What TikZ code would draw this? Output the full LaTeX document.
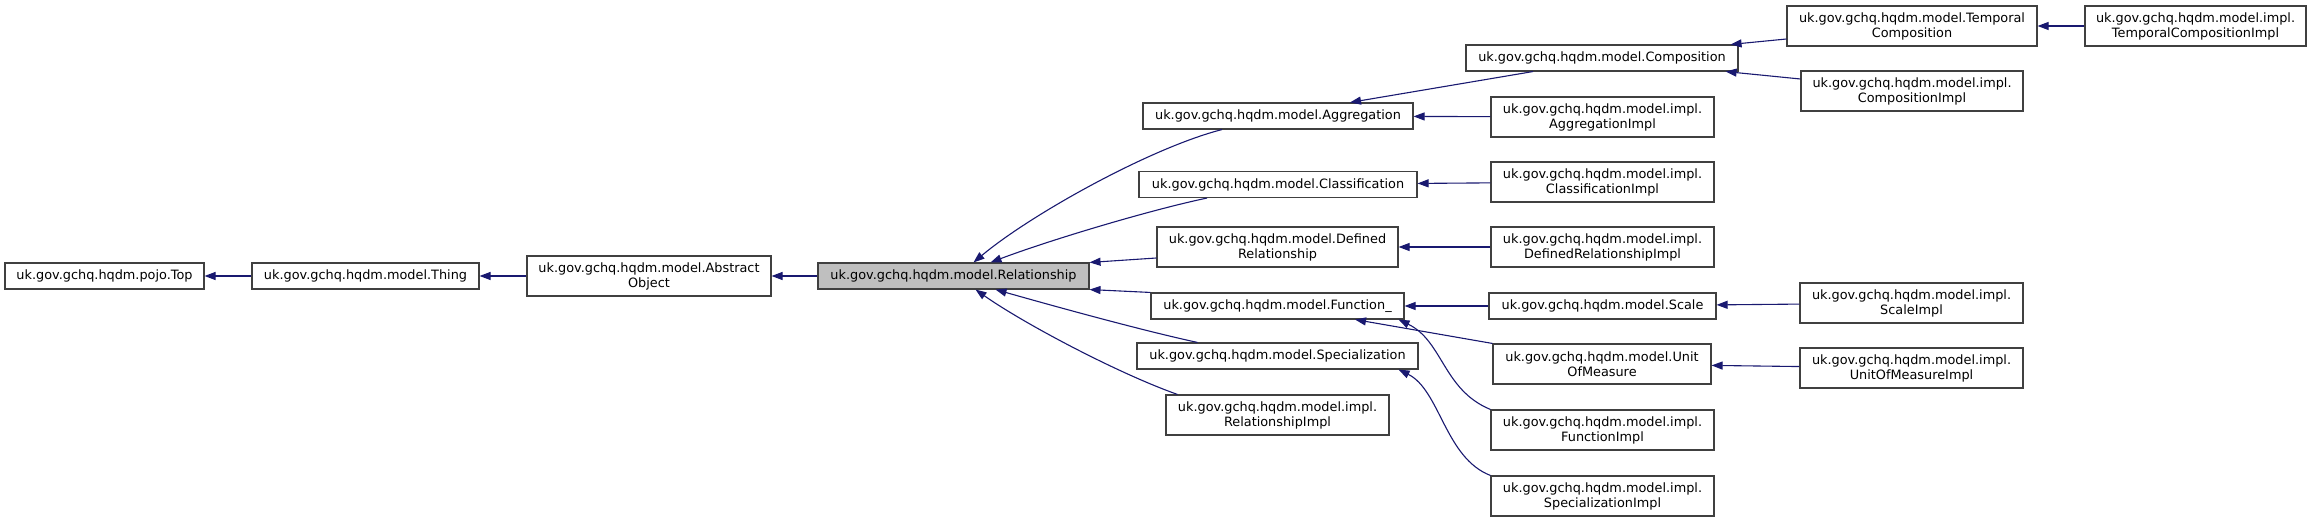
\documentclass[tikz,border=0pt]{standalone}
\usepackage{fontspec}
\setmainfont{DejaVu Sans}
\usepackage{tikz}
\usepackage{xcolor}
\usetikzlibrary{arrows.meta}
\usetikzlibrary{positioning, shapes.geometric}

\definecolor{edgeblue}{HTML}{191970}

\begin{document}
\begin{tikzpicture}[x=1pt,y=-1pt,
        cls/.style={draw=black!75, line width=1.1pt, fill=white, inner sep=0pt, align=center,
                font=\fontsize{12.85}{15}\selectfont},
        cur/.style={cls, fill=black!25},
        inh/.style={draw=edgeblue, line width=1.1pt, -{Triangle[length=11pt,width=8pt]}}]
        \useasboundingbox (0,0) rectangle (2313,521);
        % left chain
        \node[cls, minimum width=199pt, minimum height=26pt] (top) at (104.5,276) {uk.gov.gchq.hqdm.pojo.Top};
        \node[cls, minimum width=227pt, minimum height=26pt] (thing) at (365.5,276) {uk.gov.gchq.hqdm.model.Thing};
        \node[cls, minimum width=244pt, minimum height=40pt] (abs) at (649,276) {uk.gov.gchq.hqdm.model.Abstract\\Object};
        \node[cur, minimum width=271pt, minimum height=26pt] (rel) at (953.5,276) {uk.gov.gchq.hqdm.model.Relationship};
        % direct subtypes
        \node[cls, minimum width=270pt, minimum height=26pt] (aggr) at (1278,116) {uk.gov.gchq.hqdm.model.Aggregation};
        \node[cls, minimum width=278pt, minimum height=26pt] (clf) at (1278,184.5) {uk.gov.gchq.hqdm.model.Classification};
        \node[cls, minimum width=241pt, minimum height=40pt] (drel) at (1277.5,247) {uk.gov.gchq.hqdm.model.Defined\\Relationship};
        \node[cls, minimum width=253pt, minimum height=26pt] (fun) at (1277.5,306) {uk.gov.gchq.hqdm.model.Function\_};
        \node[cls, minimum width=281pt, minimum height=26pt] (spec) at (1277.5,356) {uk.gov.gchq.hqdm.model.Specialization};
        \node[cls, minimum width=223pt, minimum height=40pt] (relimp) at (1277.5,415) {uk.gov.gchq.hqdm.model.impl.\\RelationshipImpl};
        % next column
        \node[cls, minimum width=272pt, minimum height=26pt] (comp) at (1602,58) {uk.gov.gchq.hqdm.model.Composition};
        \node[cls, minimum width=223pt, minimum height=40pt] (aggrimp) at (1602.5,117) {uk.gov.gchq.hqdm.model.impl.\\AggregationImpl};
        \node[cls, minimum width=223pt, minimum height=40pt] (clfimp) at (1602.5,182) {uk.gov.gchq.hqdm.model.impl.\\ClassificationImpl};
        \node[cls, minimum width=223pt, minimum height=40pt] (drelimp) at (1602.5,247) {uk.gov.gchq.hqdm.model.impl.\\DefinedRelationshipImpl};
        \node[cls, minimum width=227pt, minimum height=26pt] (scale) at (1602.5,306) {uk.gov.gchq.hqdm.model.Scale};
        \node[cls, minimum width=218pt, minimum height=40pt] (uom) at (1602,364) {uk.gov.gchq.hqdm.model.Unit\\OfMeasure};
        \node[cls, minimum width=223pt, minimum height=40pt] (funimp) at (1602.5,430) {uk.gov.gchq.hqdm.model.impl.\\FunctionImpl};
        \node[cls, minimum width=223pt, minimum height=40pt] (specimp) at (1602.5,496) {uk.gov.gchq.hqdm.model.impl.\\SpecializationImpl};
        % right columns
        \node[cls, minimum width=250pt, minimum height=40pt] (tcomp) at (1912,26) {uk.gov.gchq.hqdm.model.Temporal\\Composition};
        \node[cls, minimum width=221pt, minimum height=40pt] (tcompimp) at (2195.5,26) {uk.gov.gchq.hqdm.model.impl.\\TemporalCompositionImpl};
        \node[cls, minimum width=222pt, minimum height=40pt] (compimp) at (1912,91) {uk.gov.gchq.hqdm.model.impl.\\CompositionImpl};
        \node[cls, minimum width=223pt, minimum height=40pt] (scaleimp) at (1911.5,303) {uk.gov.gchq.hqdm.model.impl.\\ScaleImpl};
        \node[cls, minimum width=223pt, minimum height=40pt] (uomimp) at (1911.5,368) {uk.gov.gchq.hqdm.model.impl.\\UnitOfMeasureImpl};

        % inheritance edges
        \draw[inh] (thing) -- (top);
        \draw[inh] (abs) -- (thing);
        \draw[inh] (rel) -- (abs);
        \draw[inh] ([xshift=-56pt]aggr.south) .. controls (1150,148) and (1030,215) .. ([xshift=20pt]rel.north);
        \draw[inh] ([xshift=-71pt]clf.south) .. controls (1150,210) and (1050,240) .. ([xshift=37pt]rel.north);
        \draw[inh] ([yshift=-11pt]drel.west) -- (rel.north east);
        \draw[inh] (fun.north west) -- (rel.south east);
        \draw[inh] ([xshift=-80pt]spec.north) .. controls (1140,330) and (1050,305) .. ([xshift=42pt]rel.south);
        \draw[inh] ([xshift=-100pt]relimp.north) .. controls (1117,373) and (1023,323) .. ([xshift=22pt]rel.south);
        \draw[inh] ([xshift=-69pt]comp.south) -- ([xshift=72pt]aggr.north);
        \draw[inh] (aggrimp) -- (aggr);
        \draw[inh] (clfimp) -- (clf);
        \draw[inh] (drelimp) -- (drel);
        \draw[inh] ([yshift=-13pt]tcomp.west) -- ([xshift=-8pt]comp.north east);
        \draw[inh] ([yshift=12pt]compimp.west) -- ([xshift=-13pt]comp.south east);
        \draw[inh] (tcompimp) -- (tcomp);
        \draw[inh] (scale) -- (fun);
        \draw[inh] (uom.north west) -- ([xshift=77.5pt]fun.south);
        \draw[inh] (funimp.north west) .. controls (1443,390) and (1443,341) .. ([xshift=-6pt]fun.south east);
        \draw[inh] (specimp.north west) .. controls (1445,458) and (1440,390) .. ([xshift=-20pt]spec.south east);
        \draw[inh] (scaleimp) -- (scale);
        \draw[inh] (uomimp) -- (uom);
\end{tikzpicture}
\end{document}
